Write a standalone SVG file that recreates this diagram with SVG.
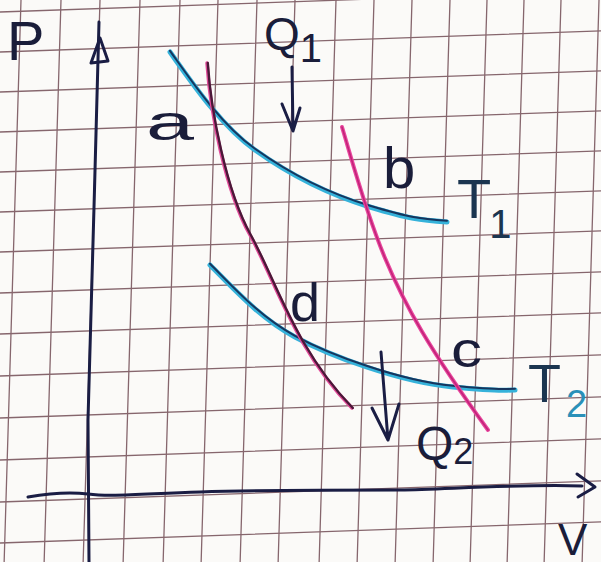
<svg xmlns="http://www.w3.org/2000/svg" width="601" height="562" viewBox="0 0 601 562">
<style>
.grid{stroke:#86666d;stroke-width:1.3;fill:none}
.ink{stroke:#1a1d44;stroke-width:3;fill:none;stroke-linecap:round;stroke-linejoin:round}
.isoC{stroke:#35b2da;stroke-width:5;fill:none;stroke-linecap:round}
.isoD{stroke:#16355e;stroke-width:2;fill:none;stroke-linecap:round}
.lbl{font-family:"Liberation Sans",Arial,sans-serif;fill:#1a1d3a}
.lblT{font-family:"Liberation Sans",Arial,sans-serif;fill:#1b3550}
</style>
<rect width="601" height="562" fill="#fbfaf8"/>
<g id="grid">
<g transform="matrix(1,0,-0.03,1,0,0)">
<path class="grid" d="M-18,-10V600M21,-10V600M61,-10V600M100,-10V600M140,-10V600M180,-10V600M218,-10V600M257,-10V600M295,-10V600M336,-10V600M374,-10V600M412,-10V600M450,-10V600M487,-10V600M524,-10V600M561,-10V600M599,-10V600M636,-10V600"/>
</g>
<g transform="matrix(1,-0.035,0,1,0,0)">
<path class="grid" d="M-10,12H640M-10,52H640M-10,92H640M-10,132H640M-10,172H640M-10,212H640M-10,252H640M-10,293H640M-10,334H640M-10,376H640M-10,418H640M-10,460H640M-10,502H640M-10,543H640M-10,584H640"/>
</g>
</g>
<g id="axes">
<path class="ink" d="M99,22 C96,150 91,300 88,420 L89,562"/>
<path class="ink" d="M100,38 L91,63 L108,61 Z"/>
<path class="ink" d="M28,497 C45,494 65,491 88,494 C110,497 140,494 200,492 C260,490 320,490 400,490 C450,489 520,484 582,486"/>
<path class="ink" d="M577,474 L595,487 L578,497"/>
</g>
<g id="connectors">
<path id="isotherm-T1" class="isoC" d="M170,52 C190,80 220,125 255,150 S330,195 370,207 S420,220 447,222"/>
<path class="isoD" transform="translate(0,-1.2)" d="M170,52 C190,80 220,125 255,150 S330,195 370,207 S420,220 447,222"/>
<path id="isotherm-T2" class="isoC" d="M210,265 C235,290 260,318 295,337 S400,382 453,387 S500,390 515,390"/>
<path class="isoD" transform="translate(0,-1.2)" d="M210,265 C235,290 260,318 295,337 S400,382 453,387 S500,390 515,390"/>
<path id="adiabat-ad" d="M207,63 C210,110 225,190 250,235 S295,350 352,408" stroke="#e04a98" stroke-width="3.5" fill="none" stroke-linecap="round"/>
<path d="M207,63 C210,110 225,190 250,235 S295,350 352,408" stroke="#4a1838" stroke-width="2.4" fill="none" stroke-linecap="round" transform="translate(0.8,0)"/>
<path id="adiabat-bc" d="M342,127 C352,160 365,210 385,258 S430,350 488,430" stroke="#e8489e" stroke-width="4" fill="none" stroke-linecap="round"/>
<path d="M342,127 C352,160 365,210 385,258 S430,350 488,430" stroke="#c4237a" stroke-width="1.6" fill="none" stroke-linecap="round"/>
<path class="ink" d="M292,67 L293,131 M282,104 L293,131 L300,108"/>
<path class="ink" d="M381,352 L388,440 M372,408 L388,440 L399,404"/>
</g>
<g id="label-P"><text class="lbl" x="7" y="60" font-size="56">P</text></g>
<g id="label-Q1"><text class="lbl" x="264" y="50" font-size="46">Q<tspan dy="12" font-size="40">1</tspan></text></g>
<g id="node-a"><text class="lbl" x="146" y="140" font-size="50" textLength="48" lengthAdjust="spacingAndGlyphs">a</text></g>
<g id="node-b"><text class="lbl" x="383" y="188" font-size="58">b</text></g>
<g id="label-T1"><text class="lblT" x="457" y="218" font-size="56">T<tspan dx="-2" dy="20" font-size="40">1</tspan></text></g>
<g id="node-d"><text class="lbl" x="290" y="321" font-size="54">d</text></g>
<g id="node-c"><text class="lbl" x="451" y="367" font-size="50" textLength="31" lengthAdjust="spacingAndGlyphs">c</text></g>
<g id="label-T2"><text class="lblT" x="528" y="402" font-size="54">T</text><text x="566" y="417" font-size="38" font-family="Liberation Sans, Arial, sans-serif" fill="#2a90b8">2</text></g>
<g id="label-Q2"><text class="lbl" x="416" y="460" font-size="48">Q<tspan dy="4" font-size="36">2</tspan></text></g>
<g id="label-V"><text class="lbl" x="558" y="555" font-size="44">V</text></g>
</svg>
